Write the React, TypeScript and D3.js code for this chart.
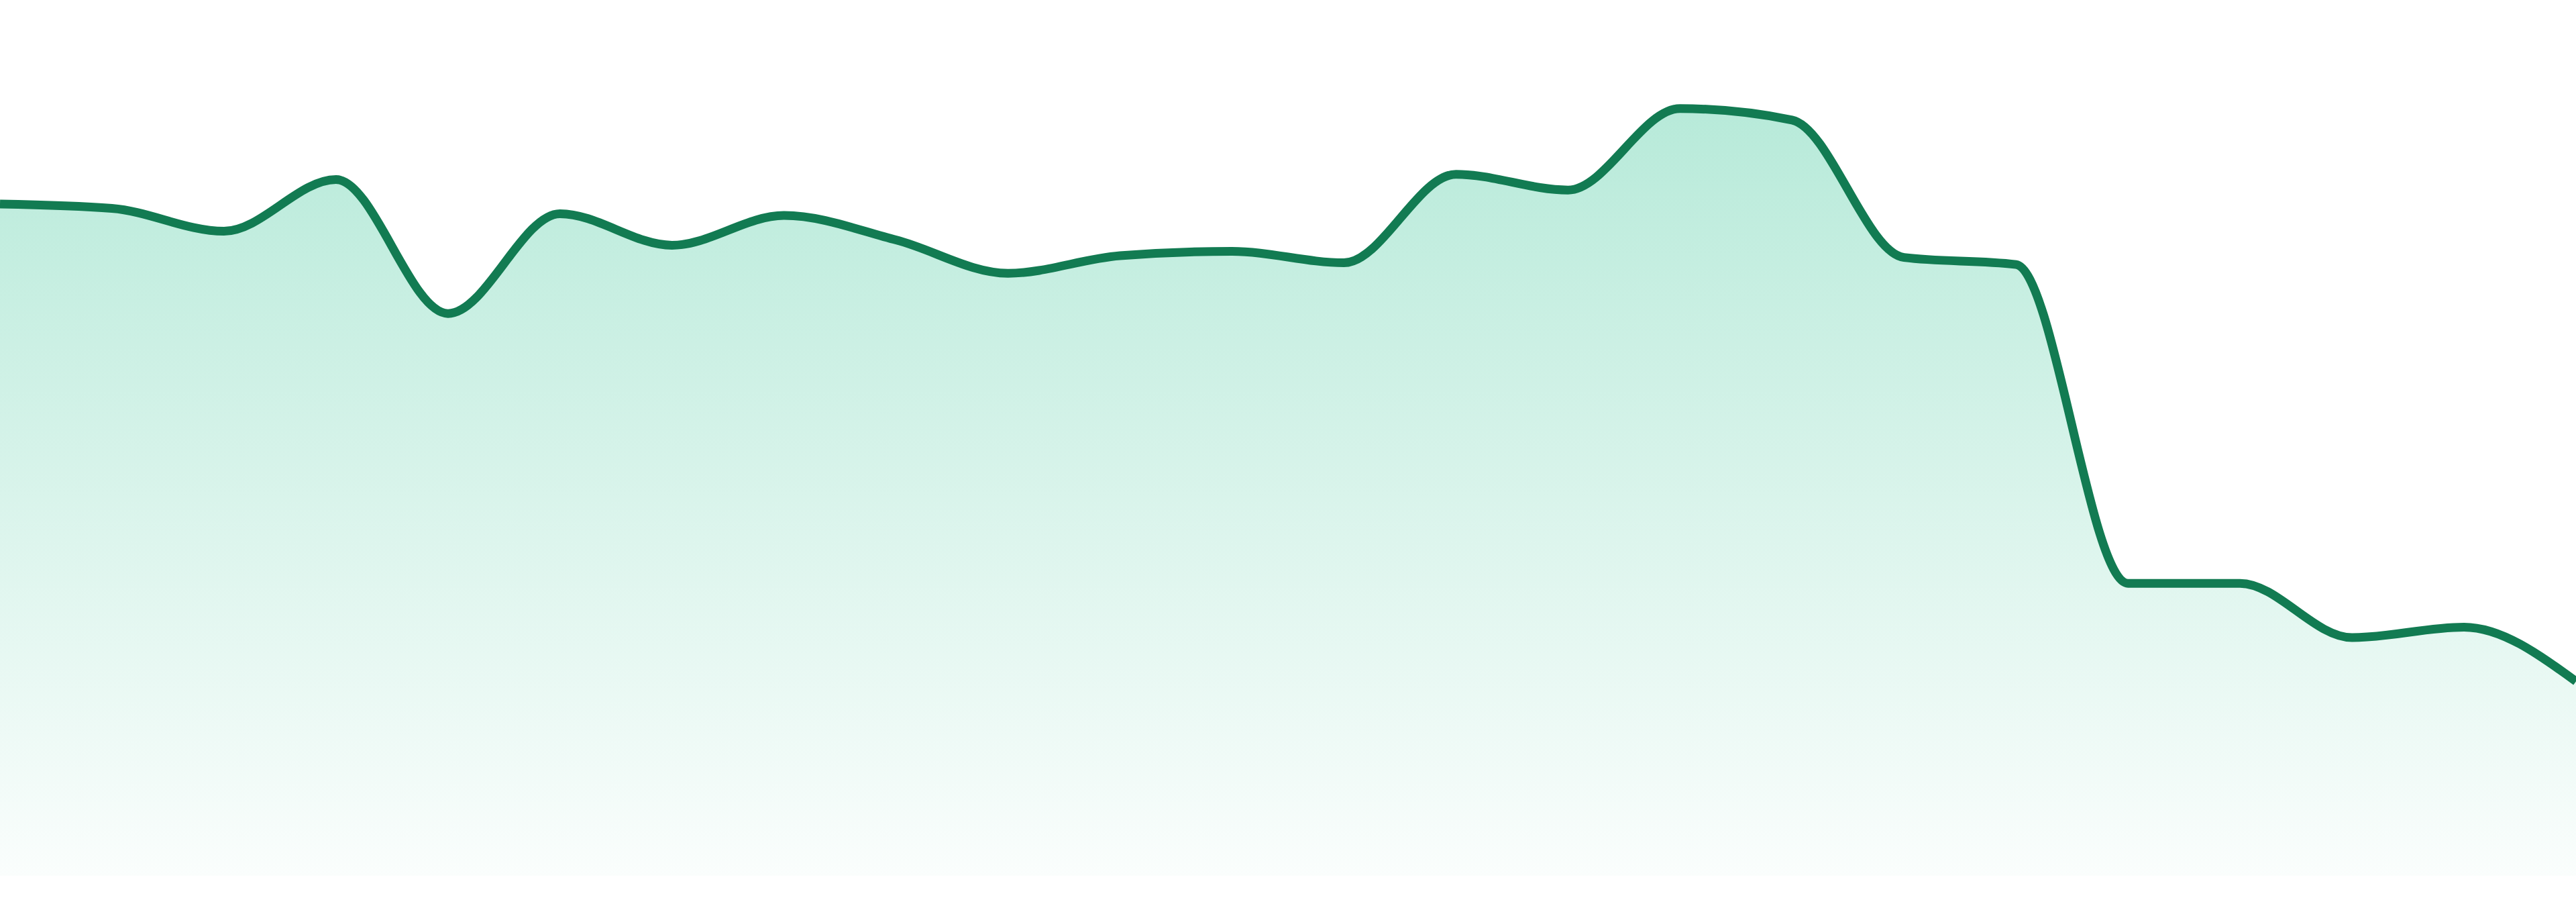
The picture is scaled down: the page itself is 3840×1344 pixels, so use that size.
import { useEffect, useRef } from 'react';
import * as d3 from 'd3';

// one value per period
const periods = d3.range(24).map((i) => `P${i + 1}`);
const values = [
  76.7, 76.2, 73.6, 79.5, 64.2, 75.6, 72.0, 75.4, 72.6, 68.8, 70.8, 71.3,
  70.0, 80.1, 78.3, 87.6, 86.3, 70.6, 69.8, 33.4, 33.4, 27.2, 28.4, 22.2,
];

const WIDTH = 3840;
const HEIGHT = 1344;
const BASELINE = 1305;

export default function App() {
  const svgRef = useRef<SVGSVGElement>(null);

  useEffect(() => {
    if (!svgRef.current) return;
    document.body.style.margin = '0';

    const svg = d3.select(svgRef.current);
    svg.selectAll('*').remove();

    const data = periods.map((p, i) => ({ p, i, v: values[i] }));

    const x = d3.scaleLinear().domain([0, periods.length - 1]).range([0, WIDTH]);
    const y = d3.scaleLinear().domain([0, 100]).range([BASELINE, 0]);

    const defs = svg.append('defs');
    const grad = defs
      .append('linearGradient')
      .attr('id', 'areaFill')
      .attr('x1', 0)
      .attr('y1', 0)
      .attr('x2', 0)
      .attr('y2', 1);
    grad.append('stop').attr('offset', '0%').attr('stop-color', '#10b981').attr('stop-opacity', 0.3);
    grad.append('stop').attr('offset', '100%').attr('stop-color', '#10b981').attr('stop-opacity', 0.02);

    const area = d3
      .area<{ i: number; v: number }>()
      .x((d) => x(d.i))
      .y0(BASELINE)
      .y1((d) => y(d.v))
      .curve(d3.curveMonotoneX);

    const line = d3
      .line<{ i: number; v: number }>()
      .x((d) => x(d.i))
      .y((d) => y(d.v))
      .curve(d3.curveMonotoneX);

    svg.append('path').datum(data).attr('fill', 'url(#areaFill)').attr('d', area);

    svg
      .append('path')
      .datum(data)
      .attr('fill', 'none')
      .attr('stroke', '#127b52')
      .attr('stroke-width', 13)
      .attr('stroke-linejoin', 'round')
      .attr('d', line);
  }, []);

  return (
    <svg
      ref={svgRef}
      width={WIDTH}
      height={HEIGHT}
      style={{ display: 'block', position: 'absolute', left: 0, top: 0, background: '#fff' }}
    />
  );
}
